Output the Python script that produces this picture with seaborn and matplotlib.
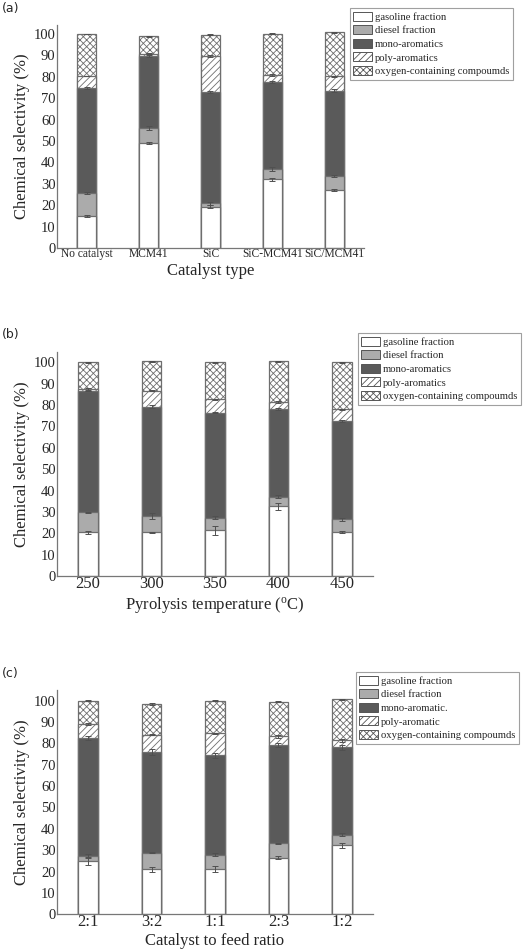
import numpy as np
import matplotlib
matplotlib.use("Agg")
import matplotlib.pyplot as plt
from matplotlib.patches import Patch
import seaborn as sns

# ---- data ----
cat_a = ["No catalyst", "MCM41", "SiC", "SiC-MCM41", "SiC/MCM41"]
gas_a = [14.8, 49.1, 19.3, 32.2, 27.1]
dsl_a = [10.7, 7.0, 1.7, 4.7, 6.5]
mono_a = [49.3, 33.8, 51.9, 40.8, 39.9]
poly_a = [5.6, 0.8, 16.8, 3.1, 6.8]
oxy_a = [19.6, 8.2, 10.0, 19.4, 20.4]
err_a = [[0.5, 0.3, 0.6, 0.7, 0.5],
         [0.5, 0.8, 0.7, 1.0, 0.3],
         [0.6, 0.7, 0.5, 0.5, 0.6],
         [0.2, 0.5, 0.3, 0.5, 0.3],
         [0.2, 0.2, 0.3, 0.4, 0.3]]

cat_b = ["250", "300", "350", "400", "450"]
gas_b = [20.4, 20.4, 21.4, 32.6, 20.4]
dsl_b = [9.4, 7.8, 5.9, 4.5, 6.1]
mono_b = [56.8, 51.1, 49.1, 41.2, 46.0]
poly_b = [1.1, 7.4, 6.3, 3.1, 5.5]
oxy_b = [12.3, 13.8, 17.3, 19.1, 22.0]
err_b = [[0.8, 0.2, 2.0, 1.5, 0.5],
         [0.3, 1.5, 0.8, 0.8, 0.8],
         [0.2, 0.8, 0.2, 0.5, 0.4],
         [0.5, 0.2, 0.2, 0.6, 0.2],
         [0.3, 0.2, 0.2, 0.3, 0.4]]

cat_c = ["2:1", "3:2", "1:1", "2:3", "1:2"]
gas_c = [24.8, 21.1, 21.1, 26.5, 32.4]
dsl_c = [2.7, 7.8, 6.8, 6.7, 4.9]
mono_c = [55.2, 47.1, 46.5, 46.1, 40.9]
poly_c = [6.2, 8.1, 10.3, 4.0, 3.2]
oxy_c = [11.1, 14.3, 15.3, 16.2, 19.2]
err_c = [[1.5, 1.2, 1.3, 0.6, 1.2],
         [0.8, 0.3, 0.6, 0.3, 0.8],
         [1.0, 1.2, 1.2, 1.0, 1.2],
         [0.5, 0.3, 0.3, 0.8, 0.8],
         [0.3, 0.3, 0.3, 0.3, 0.2]]

labels_ab = ["gasoline fraction", "diesel fraction", "mono-aromatics",
             "poly-aromatics", "oxygen-containing compoumds"]
labels_c = ["gasoline fraction", "diesel fraction", "mono-aromatic.",
            "poly-aromatic", "oxygen-containing compoumds"]

# styles for the five layers
face = ["white", "#ababab", "#5a5a5a", "white", "white"]
hatch = [None, None, None, "/////", "xxxxx"]
edge = "#6e6e6e"

sns.set_style("white")
plt.rcParams["font.family"] = ["Liberation Serif", "DejaVu Serif"]
plt.rcParams["mathtext.fontset"] = "custom"
plt.rcParams["mathtext.rm"] = "Liberation Serif"
plt.rcParams["hatch.linewidth"] = 0.6

fig = plt.figure(figsize=(5.29, 9.51), dpi=100)


def stacked(rect, cats, layers, errs, xlabel, xtick_size, labels, leg_xy, tag, tag_y, xlim, ytop):
    ax = fig.add_axes(rect)
    cum = np.cumsum(np.array(layers), axis=0)
    # draw from the top layer down so lower layers cover the upper ones
    for i in range(len(layers) - 1, -1, -1):
        sns.barplot(x=cats, y=cum[i], color=face[i], saturation=1, width=0.31,
                    edgecolor=edge, linewidth=0.9, hatch=hatch[i],
                    errorbar=None, ax=ax)
    for i in range(len(layers)):
        ax.errorbar(np.arange(len(cats)), cum[i], yerr=errs[i], fmt="none",
                    ecolor="#505050", elinewidth=0.7, capsize=2.5, capthick=0.7)
    ax.set_xlim(*xlim)
    ax.set_ylim(0, ytop)
    ax.set_yticks(range(0, 101, 10))
    ax.tick_params(axis="both", length=0, pad=1)
    ax.tick_params(axis="y", labelsize=10.5)
    ax.tick_params(axis="x", labelsize=xtick_size, pad=0)
    ax.set_ylabel("Chemical selectivity (%)", fontsize=12, labelpad=3)
    ax.set_xlabel(xlabel, fontsize=12, labelpad=2)
    for s in ["top", "right"]:
        ax.spines[s].set_visible(False)
    for s in ["left", "bottom"]:
        ax.spines[s].set_color("#777777")
        ax.spines[s].set_linewidth(0.9)
    handles = [Patch(facecolor=face[i], edgecolor="#555555", hatch=hatch[i],
                     linewidth=0.7) for i in range(5)]
    leg = fig.legend(handles, labels, loc="upper right",
                     bbox_to_anchor=leg_xy,
                     bbox_transform=fig.transFigure, fontsize=7.7,
                     fancybox=False, frameon=True, handlelength=1.7,
                     handleheight=0.9, handletextpad=0.3, labelspacing=0.32,
                     borderpad=0.35, borderaxespad=0)
    leg.get_frame().set_edgecolor("#888888")
    leg.get_frame().set_linewidth(0.8)
    fig.text(0.004, tag_y, tag, fontsize=9, family="DejaVu Sans", va="top")
    return ax


H = 951.0
W = 529.0

stacked([57 / W, (H - 248) / H, 307 / W, 223 / H], cat_a,
        [gas_a, dsl_a, mono_a, poly_a, oxy_a], err_a, "Catalyst type", 8.3,
        labels_ab, (513 / W, 1 - 8 / H), "(a)", 1 - 2 / H, (-0.48, 4.48), 104.2)

stacked([57 / W, (H - 576) / H, 316 / W, 224.3 / H], cat_b,
        [gas_b, dsl_b, mono_b, poly_b, oxy_b], err_b,
        r"Pyrolysis temperature ($\mathrm{^{o}}$C)", 12,
        labels_ab, (521 / W, 1 - 333 / H), "(b)", 1 - 328 / H, (-0.49, 4.49), 105)

stacked([57 / W, (H - 914.3) / H, 316 / W, 224.3 / H], cat_c,
        [gas_c, dsl_c, mono_c, poly_c, oxy_c], err_c,
        "Catalyst to feed ratio", 12,
        labels_c, (519 / W, 1 - 672 / H), "(c)", 1 - 667 / H, (-0.49, 4.49), 105)

fig.savefig("out.png", dpi=100)
